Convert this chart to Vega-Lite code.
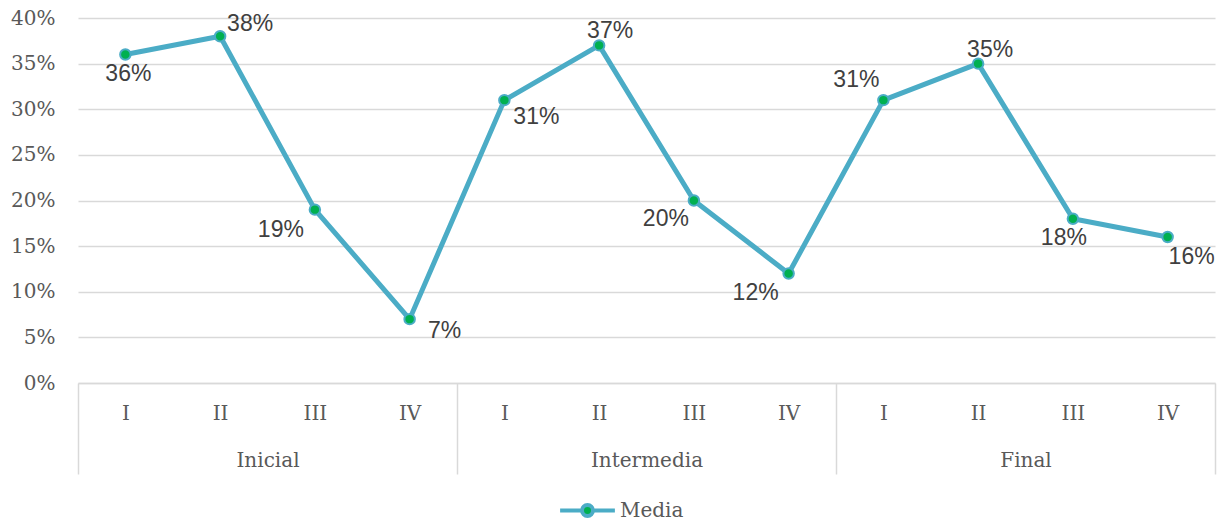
{
  "$schema": "https://vega.github.io/schema/vega-lite/v6.json",
  "autosize": "none",
  "width": 1137,
  "height": 365,
  "padding": {"left": 78, "top": 18, "right": 3, "bottom": 140},
  "background": "white",
  "config": {"view": {"stroke": null}},
  "data": {
    "values": [
      {"pos": 1, "fase": "Inicial", "nivel": "I", "val": 0.36},
      {"pos": 2, "fase": "Inicial", "nivel": "II", "val": 0.38},
      {"pos": 3, "fase": "Inicial", "nivel": "III", "val": 0.19},
      {"pos": 4, "fase": "Inicial", "nivel": "IV", "val": 0.07},
      {"pos": 5, "fase": "Intermedia", "nivel": "I", "val": 0.31},
      {"pos": 6, "fase": "Intermedia", "nivel": "II", "val": 0.37},
      {"pos": 7, "fase": "Intermedia", "nivel": "III", "val": 0.20},
      {"pos": 8, "fase": "Intermedia", "nivel": "IV", "val": 0.12},
      {"pos": 9, "fase": "Final", "nivel": "I", "val": 0.31},
      {"pos": 10, "fase": "Final", "nivel": "II", "val": 0.35},
      {"pos": 11, "fase": "Final", "nivel": "III", "val": 0.18},
      {"pos": 12, "fase": "Final", "nivel": "IV", "val": 0.16}
    ]
  },
  "encoding": {
    "y": {
      "field": "val", "type": "quantitative",
      "scale": {"domain": [0, 0.4], "nice": false, "zero": true},
      "axis": {
        "title": null, "values": [0, 0.05, 0.1, 0.15, 0.2, 0.25, 0.3, 0.35, 0.4],
        "format": ".0%", "domain": false, "ticks": false, "tickSize": 0,
        "labelPadding": 23, "labelFont": "DejaVu Serif", "labelFontSize": 20,
        "labelColor": "#595959", "gridColor": "#D9D9D9", "gridWidth": 1.5
      }
    }
  },
  "resolve": {"axis": {"x": "independent"}},
  "layer": [
    {
      "mark": {"type": "line", "strokeWidth": 5, "strokeJoin": "round", "strokeCap": "round"},
      "encoding": {
        "x": {
          "field": "pos", "type": "quantitative",
          "scale": {"domain": [0.5, 12.5], "nice": false, "zero": false},
          "axis": {
            "orient": "bottom",
            "title": null, "values": [1, 2, 3, 4, 5, 6, 7, 8, 9, 10, 11, 12],
            "labelExpr": "['I','II','III','IV'][(datum.value - 1) % 4]",
            "grid": false, "ticks": false, "tickSize": 0, "domain": false,
            "labelPadding": 30, "labelFont": "DejaVu Serif", "labelFontSize": 20,
            "labelColor": "#595959", "labelBaseline": "middle", "labelAngle": 0
          }
        },
        "color": {
          "datum": "Media", "type": "nominal",
          "scale": {"range": ["#4BACC6"]},
          "legend": {
            "title": null, "orient": "none", "direction": "horizontal",
            "legendX": 480, "legendY": 463,
            "symbolType": "M-1,0H-0.2M0.2,0H1M-0.2,0A0.2,0.2,0,1,0,0.2,0A0.2,0.2,0,1,0,-0.2,0Z",
            "symbolSize": 3000,
            "labelFont": "DejaVu Serif", "labelFontSize": 20, "labelColor": "#595959",
            "labelOffset": 3,
            "encode": {
              "symbols": {
                "update": {
                  "shape": {"value": "M-1,0H-0.2M0.2,0H1M-0.2,0A0.2,0.2,0,1,0,0.2,0A0.2,0.2,0,1,0,-0.2,0Z"},
                  "size": {"value": 3000},
                  "fill": {"value": "#00B050"},
                  "stroke": {"value": "#4BACC6"},
                  "strokeWidth": {"value": 4},
                  "opacity": {"value": 1}
                }
              }
            }
          }
        }
      }
    },
    {
      "mark": {"type": "point", "filled": true, "fill": "#00B050", "stroke": "#4BACC6", "strokeWidth": 2, "size": 110, "opacity": 1},
      "encoding": {
        "x": {
          "field": "pos", "type": "quantitative",
          "axis": {
            "orient": "bottom",
            "title": null, "values": [2.5, 6.5, 10.5],
            "labelExpr": "['Inicial','Intermedia','Final'][floor(datum.value / 4)]",
            "grid": false, "ticks": false, "tickSize": 0, "domain": false,
            "labelPadding": 77, "labelFont": "DejaVu Serif", "labelFontSize": 20,
            "labelColor": "#595959", "labelBaseline": "middle", "labelAngle": 0
          }
        }
      }
    },
    {
      "transform": [{"filter": "datum.pos == 1"}],
      "mark": {"type": "text", "font": "Liberation Sans", "fontSize": 23, "color": "#404040", "baseline": "middle", "dx": 3, "dy": 19},
      "encoding": {
        "x": {
          "field": "pos", "type": "quantitative",
          "axis": {
            "orient": "bottom",
            "title": null, "values": [0.5, 4.5, 8.5, 12.5],
            "labels": false, "grid": false, "domain": true, "domainColor": "#D9D9D9", "domainWidth": 1.5,
            "ticks": true, "tickSize": 91, "tickColor": "#D9D9D9", "tickWidth": 1.5
          }
        },
        "text": {"field": "val", "format": ".0%"}
      }
    },
    {
      "transform": [{"filter": "datum.pos == 2"}],
      "mark": {"type": "text", "font": "Liberation Sans", "fontSize": 23, "color": "#404040", "baseline": "middle", "dx": 30, "dy": -12},
      "encoding": {"x": {"field": "pos", "type": "quantitative", "axis": null}, "text": {"field": "val", "format": ".0%"}}
    },
    {
      "transform": [{"filter": "datum.pos == 3"}],
      "mark": {"type": "text", "font": "Liberation Sans", "fontSize": 23, "color": "#404040", "baseline": "middle", "dx": -34, "dy": 20},
      "encoding": {"x": {"field": "pos", "type": "quantitative", "axis": null}, "text": {"field": "val", "format": ".0%"}}
    },
    {
      "transform": [{"filter": "datum.pos == 4"}],
      "mark": {"type": "text", "font": "Liberation Sans", "fontSize": 23, "color": "#404040", "baseline": "middle", "dx": 35, "dy": 12},
      "encoding": {"x": {"field": "pos", "type": "quantitative", "axis": null}, "text": {"field": "val", "format": ".0%"}}
    },
    {
      "transform": [{"filter": "datum.pos == 5"}],
      "mark": {"type": "text", "font": "Liberation Sans", "fontSize": 23, "color": "#404040", "baseline": "middle", "dx": 32, "dy": 17},
      "encoding": {"x": {"field": "pos", "type": "quantitative", "axis": null}, "text": {"field": "val", "format": ".0%"}}
    },
    {
      "transform": [{"filter": "datum.pos == 6"}],
      "mark": {"type": "text", "font": "Liberation Sans", "fontSize": 23, "color": "#404040", "baseline": "middle", "dx": 11, "dy": -14},
      "encoding": {"x": {"field": "pos", "type": "quantitative", "axis": null}, "text": {"field": "val", "format": ".0%"}}
    },
    {
      "transform": [{"filter": "datum.pos == 7"}],
      "mark": {"type": "text", "font": "Liberation Sans", "fontSize": 23, "color": "#404040", "baseline": "middle", "dx": -28, "dy": 18},
      "encoding": {"x": {"field": "pos", "type": "quantitative", "axis": null}, "text": {"field": "val", "format": ".0%"}}
    },
    {
      "transform": [{"filter": "datum.pos == 8"}],
      "mark": {"type": "text", "font": "Liberation Sans", "fontSize": 23, "color": "#404040", "baseline": "middle", "dx": -33, "dy": 19},
      "encoding": {"x": {"field": "pos", "type": "quantitative", "axis": null}, "text": {"field": "val", "format": ".0%"}}
    },
    {
      "transform": [{"filter": "datum.pos == 9"}],
      "mark": {"type": "text", "font": "Liberation Sans", "fontSize": 23, "color": "#404040", "baseline": "middle", "dx": -27, "dy": -20},
      "encoding": {"x": {"field": "pos", "type": "quantitative", "axis": null}, "text": {"field": "val", "format": ".0%"}}
    },
    {
      "transform": [{"filter": "datum.pos == 10"}],
      "mark": {"type": "text", "font": "Liberation Sans", "fontSize": 23, "color": "#404040", "baseline": "middle", "dx": 12, "dy": -14},
      "encoding": {"x": {"field": "pos", "type": "quantitative", "axis": null}, "text": {"field": "val", "format": ".0%"}}
    },
    {
      "transform": [{"filter": "datum.pos == 11"}],
      "mark": {"type": "text", "font": "Liberation Sans", "fontSize": 23, "color": "#404040", "baseline": "middle", "dx": -9, "dy": 19},
      "encoding": {"x": {"field": "pos", "type": "quantitative", "axis": null}, "text": {"field": "val", "format": ".0%"}}
    },
    {
      "transform": [{"filter": "datum.pos == 12"}],
      "mark": {"type": "text", "font": "Liberation Sans", "fontSize": 23, "color": "#404040", "baseline": "middle", "dx": 24, "dy": 20},
      "encoding": {"x": {"field": "pos", "type": "quantitative", "axis": null}, "text": {"field": "val", "format": ".0%"}}
    }
  ]
}
